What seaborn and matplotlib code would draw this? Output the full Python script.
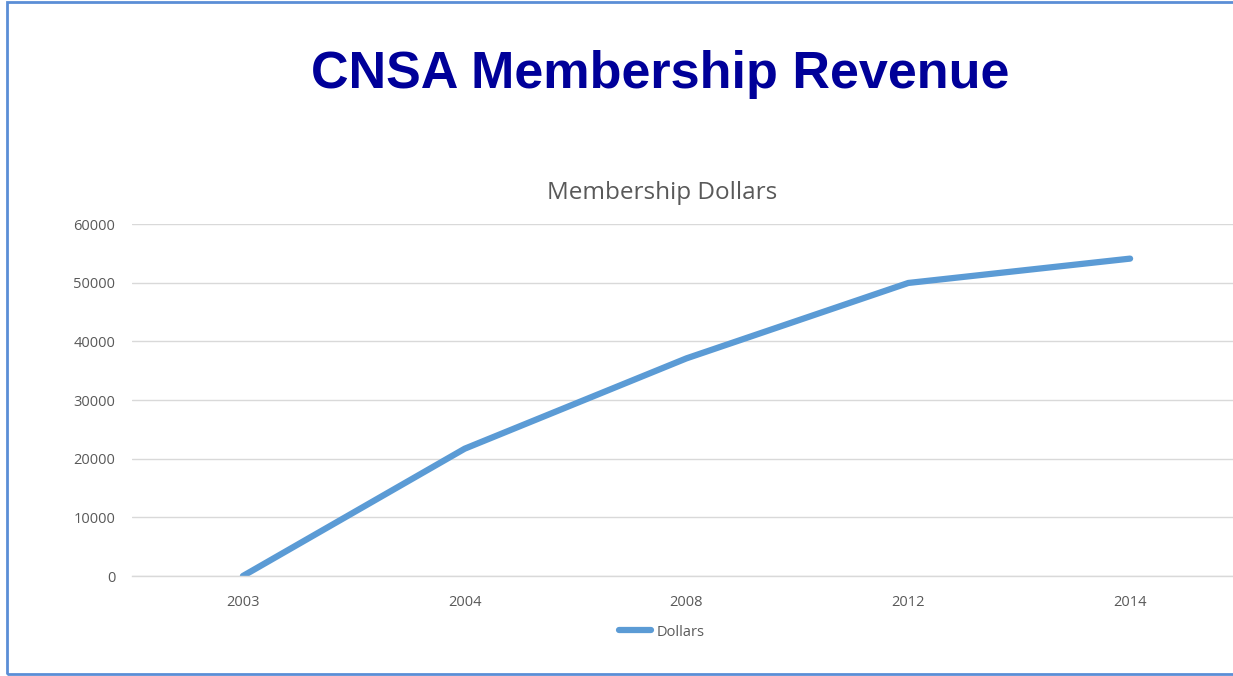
'''CNSA membership revenue line chart
'''

import pandas as pd
import matplotlib.pyplot as plt
import matplotlib.patches as patches
import seaborn as sns

years = ['2003', '2004', '2008', '2012', '2014']
dollars = [0, 21700, 37100, 49950, 54100]
y_ticks = [0, 10000, 20000, 30000, 40000, 50000, 60000]

LINE_COLOR = '#5B9BD5'
TEXT_GREY = '#595959'
GRID_GREY = '#D9D9D9'

sns.set_style('white')
plt.rcParams['font.family'] = ['Open Sans', 'DejaVu Sans']

df = pd.DataFrame({'Year': years, 'Dollars': dollars})

fig = plt.figure(figsize=(12.33, 6.76), dpi=100)
ax = fig.add_axes([132 / 1233, 100 / 676, 1109 / 1233, 352 / 676])

sns.lineplot(data=df, x='Year', y='Dollars', sort=False, ax=ax,
             color=LINE_COLOR, linewidth=4.5, solid_capstyle='round',
             label='Dollars', legend=False)

ax.set_xlim(-0.5, len(years) - 0.5)
ax.set_ylim(0, 60000)
ax.set_yticks(y_ticks)
ax.set_yticklabels([str(v) for v in y_ticks])
ax.set_xlabel('')
ax.set_ylabel('')
ax.yaxis.grid(True, color=GRID_GREY, linewidth=1)
ax.set_axisbelow(True)
for side in ['top', 'right', 'left']:
    ax.spines[side].set_visible(False)
ax.spines['bottom'].set_color(GRID_GREY)
ax.spines['bottom'].set_linewidth(1)
ax.tick_params(axis='both', length=0, labelsize=10.5, labelcolor=TEXT_GREY)
ax.tick_params(axis='y', pad=12)
ax.tick_params(axis='x', pad=14)

fig.text(660 / 1233, 1 - 88 / 676, 'CNSA Membership Revenue', ha='center', va='baseline',
         fontsize=37.5, fontweight='bold', color='#000099', family=['Liberation Sans', 'DejaVu Sans'])
fig.text(662 / 1233, 1 - 199 / 676, 'Membership Dollars', ha='center', va='baseline',
         fontsize=17.5, color=TEXT_GREY)

handles, labels = ax.get_legend_handles_labels()
fig.legend(handles, labels, loc='center', bbox_to_anchor=(662 / 1233, 1 - 632 / 676),
           frameon=False, fontsize=10.5, labelcolor=TEXT_GREY, handlelength=2.2,
           handletextpad=0.4)

border = patches.Rectangle((7 / 1233, 2 / 676), 1.05, 672 / 676, transform=fig.transFigure,
                           fill=False, edgecolor='#5B8ED6', linewidth=2, clip_on=False)
fig.patches.append(border)

fig.savefig('out.png', dpi=100)
